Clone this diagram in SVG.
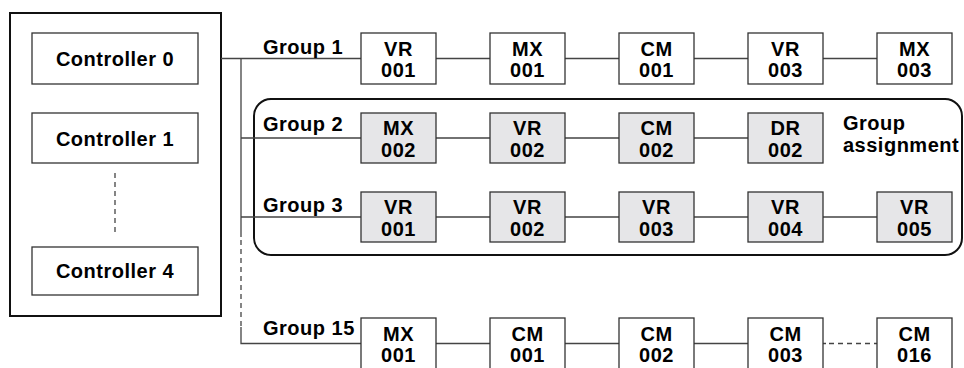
<svg xmlns="http://www.w3.org/2000/svg" width="964" height="368" viewBox="0 0 964 368">
<style>
.t{font-family:"Liberation Sans",Arial,Helvetica,sans-serif;font-weight:bold;font-size:20px;letter-spacing:0.5px;fill:#000}
.m{text-anchor:middle}
.box{fill:#fff;stroke:#333;stroke-width:1.3}
.g{fill:#e6e6e8;stroke:#333;stroke-width:1.3}
.ln{fill:none;stroke:#444;stroke-width:1.3}
.dl{fill:none;stroke:#444;stroke-width:1.3;stroke-dasharray:5 4}
</style>
<rect width="964" height="368" fill="#fff"/>
<g id="controllers">
<rect x="10" y="13" width="211" height="303" fill="#fff" stroke="#111" stroke-width="2"/>
<g id="controller0"><rect class="box" x="32" y="33" width="166" height="51"/><text class="t m" x="115" y="65.5">Controller 0</text></g>
<g id="controller1"><rect class="box" x="32" y="113" width="166" height="50"/><text class="t m" x="115" y="145.5">Controller 1</text></g>
<g id="controller4"><rect class="box" x="32" y="247" width="166" height="48"/><text class="t m" x="115" y="278">Controller 4</text></g>
</g>
<g id="group-assignment">
<rect x="254" y="99" width="708" height="156" rx="17" ry="17" fill="none" stroke="#111" stroke-width="2"/>
<text class="t" x="843" y="130">Group</text>
<text class="t" x="843" y="151.5">assignment</text>
</g>
<g id="connectors">
<line class="dl" x1="115" y1="173" x2="115" y2="234"/>
<path class="ln" d="M221 58.5H361M241 58.5V237M241 138H361M241 217H361M241 327V343.5H361"/>
<line class="dl" x1="241" y1="240" x2="241" y2="327"/>
<path class="ln" d="M436 58.5H490M565 58.5H619M694 58.5H748M823 58.5H877"/>
<path class="ln" d="M436 138H490M565 138H619M694 138H748"/>
<path class="ln" d="M436 217H490M565 217H619M694 217H748M823 217H877"/>
<path class="ln" d="M436 343.5H490M565 343.5H619M694 343.5H748M823 343.5H826"/>
<line class="dl" x1="829" y1="343.5" x2="877" y2="343.5"/>
</g>
<g id="labels">
<text class="t" x="263" y="53.5">Group 1</text>
<text class="t" x="263" y="131">Group 2</text>
<text class="t" x="263" y="211.5">Group 3</text>
<text class="t" x="263" y="335">Group 15</text>
</g>
<g id="group1">
<g id="g1-vr001"><rect class="box" x="361" y="33" width="75" height="51"/><text class="t m" x="398.5" y="55.5">VR</text><text class="t m" x="398.5" y="77">001</text></g>
<g id="g1-mx001"><rect class="box" x="490" y="33" width="75" height="51"/><text class="t m" x="527.5" y="55.5">MX</text><text class="t m" x="527.5" y="77">001</text></g>
<g id="g1-cm001"><rect class="box" x="619" y="33" width="75" height="51"/><text class="t m" x="656.5" y="55.5">CM</text><text class="t m" x="656.5" y="77">001</text></g>
<g id="g1-vr003"><rect class="box" x="748" y="33" width="75" height="51"/><text class="t m" x="785.5" y="55.5">VR</text><text class="t m" x="785.5" y="77">003</text></g>
<g id="g1-mx003"><rect class="box" x="877" y="33" width="75" height="51"/><text class="t m" x="914.5" y="55.5">MX</text><text class="t m" x="914.5" y="77">003</text></g>
</g>
<g id="group2">
<g id="g2-mx002"><rect class="g" x="361" y="113" width="75" height="50"/><text class="t m" x="398.5" y="135">MX</text><text class="t m" x="398.5" y="156.5">002</text></g>
<g id="g2-vr002"><rect class="g" x="490" y="113" width="75" height="50"/><text class="t m" x="527.5" y="135">VR</text><text class="t m" x="527.5" y="156.5">002</text></g>
<g id="g2-cm002"><rect class="g" x="619" y="113" width="75" height="50"/><text class="t m" x="656.5" y="135">CM</text><text class="t m" x="656.5" y="156.5">002</text></g>
<g id="g2-dr002"><rect class="g" x="748" y="113" width="75" height="50"/><text class="t m" x="785.5" y="135">DR</text><text class="t m" x="785.5" y="156.5">002</text></g>
</g>
<g id="group3">
<g id="g3-vr001"><rect class="g" x="361" y="192" width="75" height="50"/><text class="t m" x="398.5" y="214">VR</text><text class="t m" x="398.5" y="235.5">001</text></g>
<g id="g3-vr002"><rect class="g" x="490" y="192" width="75" height="50"/><text class="t m" x="527.5" y="214">VR</text><text class="t m" x="527.5" y="235.5">002</text></g>
<g id="g3-vr003"><rect class="g" x="619" y="192" width="75" height="50"/><text class="t m" x="656.5" y="214">VR</text><text class="t m" x="656.5" y="235.5">003</text></g>
<g id="g3-vr004"><rect class="g" x="748" y="192" width="75" height="50"/><text class="t m" x="785.5" y="214">VR</text><text class="t m" x="785.5" y="235.5">004</text></g>
<g id="g3-vr005"><rect class="g" x="877" y="192" width="75" height="50"/><text class="t m" x="914.5" y="214">VR</text><text class="t m" x="914.5" y="235.5">005</text></g>
</g>
<g id="group15">
<g id="g15-mx001"><rect class="box" x="361" y="318" width="75" height="52"/><text class="t m" x="398.5" y="340.5">MX</text><text class="t m" x="398.5" y="362">001</text></g>
<g id="g15-cm001"><rect class="box" x="490" y="318" width="75" height="52"/><text class="t m" x="527.5" y="340.5">CM</text><text class="t m" x="527.5" y="362">001</text></g>
<g id="g15-cm002"><rect class="box" x="619" y="318" width="75" height="52"/><text class="t m" x="656.5" y="340.5">CM</text><text class="t m" x="656.5" y="362">002</text></g>
<g id="g15-cm003"><rect class="box" x="748" y="318" width="75" height="52"/><text class="t m" x="785.5" y="340.5">CM</text><text class="t m" x="785.5" y="362">003</text></g>
<g id="g15-cm016"><rect class="box" x="877" y="318" width="75" height="52"/><text class="t m" x="914.5" y="340.5">CM</text><text class="t m" x="914.5" y="362">016</text></g>
</g>
</svg>
